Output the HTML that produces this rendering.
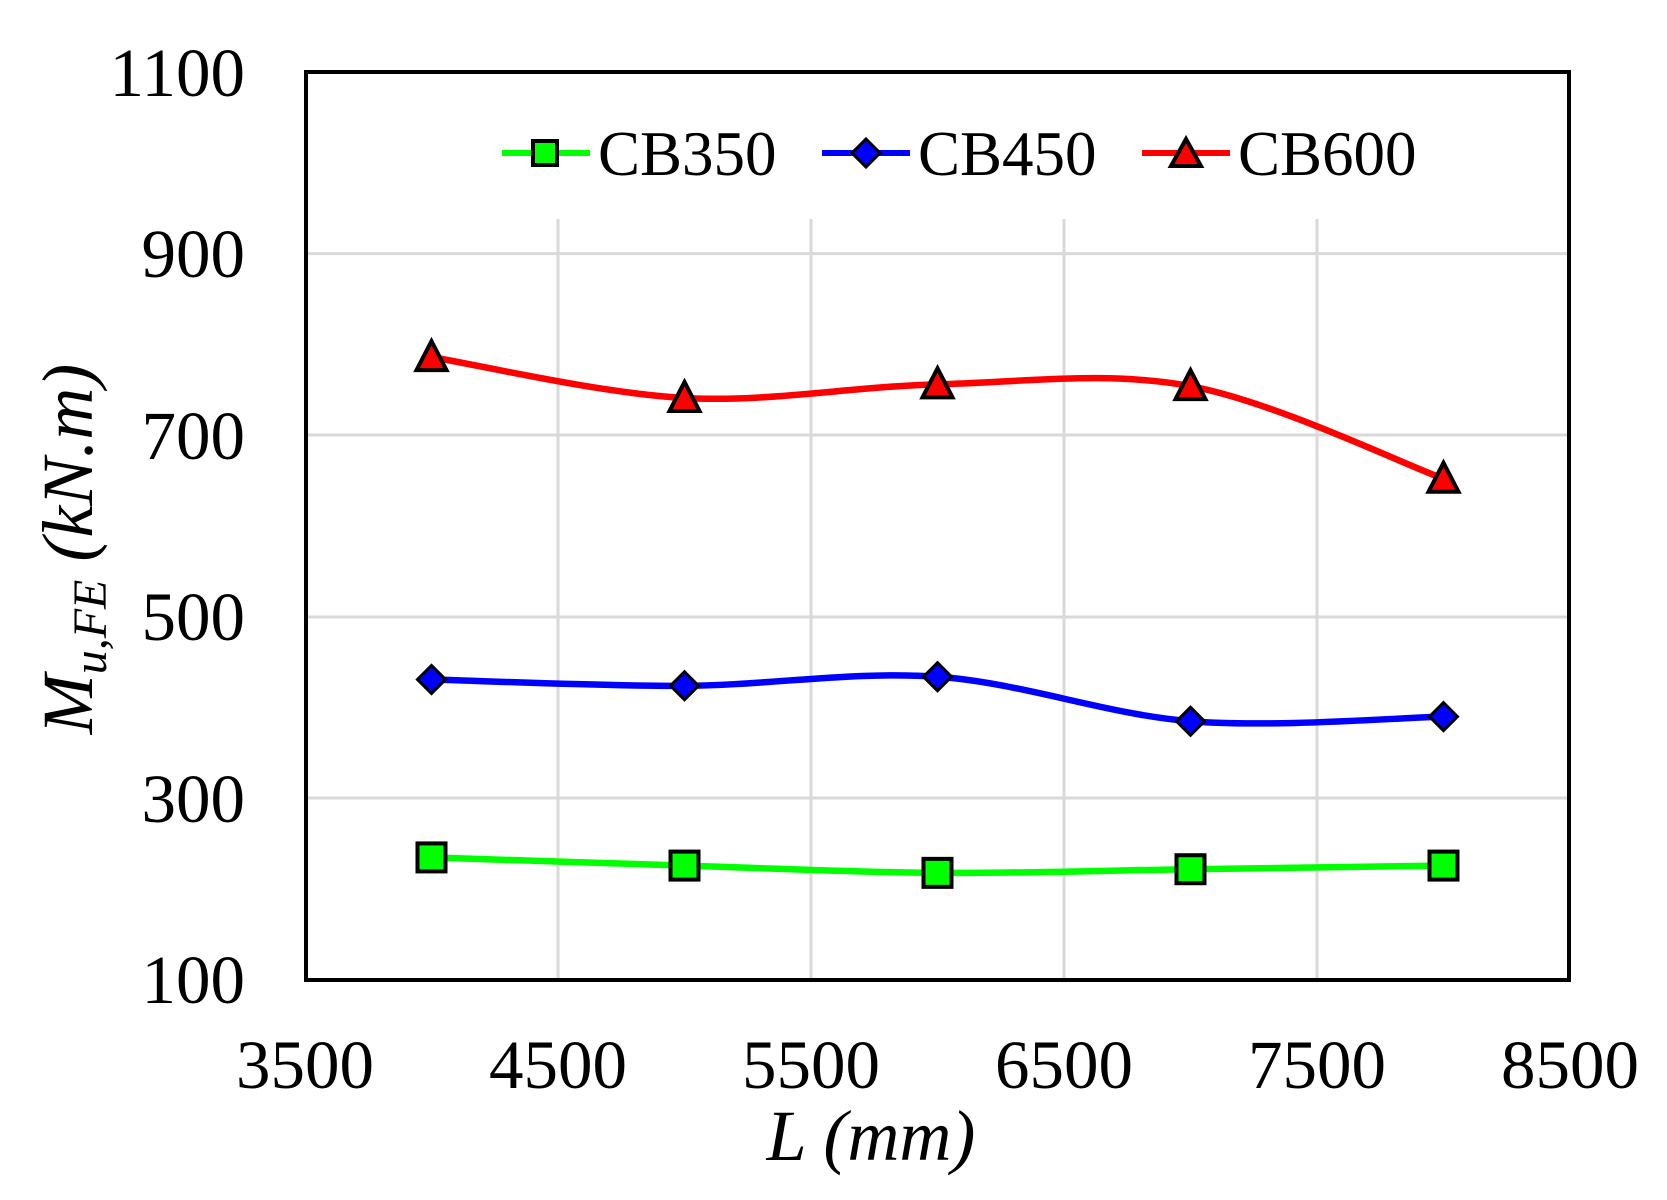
<!DOCTYPE html>
<html><head><meta charset="utf-8"><style>
html,body{margin:0;padding:0;background:#fff;}
svg{display:block;font-family:"Liberation Serif",serif;}
</style></head><body>
<svg id="s" width="1667" height="1200" viewBox="0 0 1667 1200" xmlns="http://www.w3.org/2000/svg">
<rect width="1667" height="1200" fill="#fff"/>
<g stroke="#d9d9d9" stroke-width="3">
<line x1="305" y1="798" x2="1570" y2="798"/>
<line x1="305" y1="617" x2="1570" y2="617"/>
<line x1="305" y1="435" x2="1570" y2="435"/>
<line x1="305" y1="253.6" x2="1570" y2="253.6"/>
<line x1="558" y1="219" x2="558" y2="980"/>
<line x1="811" y1="219" x2="811" y2="980"/>
<line x1="1064" y1="219" x2="1064" y2="980"/>
<line x1="1317" y1="219" x2="1317" y2="980"/>
</g>
<g id="series"></g>
<rect x="306" y="72" width="1263" height="908" fill="none" stroke="#000" stroke-width="4"/>
<g font-size="69" text-anchor="end">
<text x="245" y="96">1100</text>
<text x="245" y="277">900</text>
<text x="245" y="459">700</text>
<text x="245" y="640">500</text>
<text x="245" y="822">300</text>
<text x="245" y="1003">100</text>
</g>
<g font-size="69" text-anchor="middle">
<text x="305" y="1088">3500</text>
<text x="558" y="1088">4500</text>
<text x="811" y="1088">5500</text>
<text x="1064" y="1088">6500</text>
<text x="1317" y="1088">7500</text>
<text x="1570" y="1088">8500</text>
</g>
<text x="871" y="1160" font-size="72" font-style="italic" text-anchor="middle">L (mm)</text>
<text transform="translate(92,549) rotate(-90)" font-size="72" font-style="italic" text-anchor="middle">M<tspan font-size="48" dy="14">u,FE</tspan><tspan dy="-14"> (kN.m)</tspan></text>
<g font-size="63">
<line x1="502" y1="153" x2="590" y2="153" stroke="#00ff00" stroke-width="6"/>
<rect x="533" y="141" width="24" height="24" fill="#00ff00" stroke="#000" stroke-width="4"/>
<text x="598" y="175">CB350</text>
<line x1="822" y1="153" x2="910" y2="153" stroke="#0000ff" stroke-width="6"/>
<polygon points="866,139 880,153 866,167 852,153" fill="#0000ff" stroke="#000" stroke-width="3"/>
<text x="918" y="175">CB450</text>
<line x1="1142" y1="153" x2="1230" y2="153" stroke="#ff0000" stroke-width="6"/>
<polygon points="1186,139 1201,166 1171,166" fill="#ff0000" stroke="#000" stroke-width="4"/>
<text x="1238" y="175">CB600</text>
</g>
</svg>
<script>
var X=[4000,5000,6000,7000,8000];
function px(v){return 305+(v-3500)*0.253;}
function py(v){return 980-(v-100)*0.908;}
var S=[
 {c:"#00ff00",d:[235,226,218,222,226],m:"sq"},
 {c:"#0000ff",d:[431,424,434,385,390],m:"di"},
 {c:"#ff0000",d:[786,741,756,754,652],m:"tr"}];
var g=document.getElementById("series"),h="";
S.forEach(function(s){
 var p=X.map(function(x,i){return [px(x),py(s.d[i])];});
 var d="M"+p[0][0]+","+p[0][1];
 for(var i=0;i<p.length-1;i++){
  var p0=p[i-1]||p[i],p1=p[i],p2=p[i+1],p3=p[i+2]||p[i+1];
  var t=1/6;
  d+=" C"+(p1[0]+(p2[0]-p0[0])*t)+","+(p1[1]+(p2[1]-p0[1])*t)+" "+(p2[0]-(p3[0]-p1[0])*t)+","+(p2[1]-(p3[1]-p1[1])*t)+" "+p2[0]+","+p2[1];
 }
 h+='<path d="'+d+'" fill="none" stroke="'+s.c+'" stroke-width="6.5"/>';
 p.forEach(function(q){
  var x=q[0],y=q[1];
  if(s.m=="sq")h+='<rect x="'+(x-14)+'" y="'+(y-14)+'" width="28" height="28" fill="'+s.c+'" stroke="#000" stroke-width="4"/>';
  if(s.m=="di")h+='<polygon points="'+x+','+(y-14)+' '+(x+14)+','+y+' '+x+','+(y+14)+' '+(x-14)+','+y+'" fill="'+s.c+'" stroke="#000" stroke-width="3"/>';
  if(s.m=="tr")h+='<polygon points="'+x+','+(y-16)+' '+(x+15)+','+(y+13)+' '+(x-15)+','+(y+13)+'" fill="'+s.c+'" stroke="#000" stroke-width="4"/>';
 });
});
g.innerHTML=h;
</script>
</body></html>
